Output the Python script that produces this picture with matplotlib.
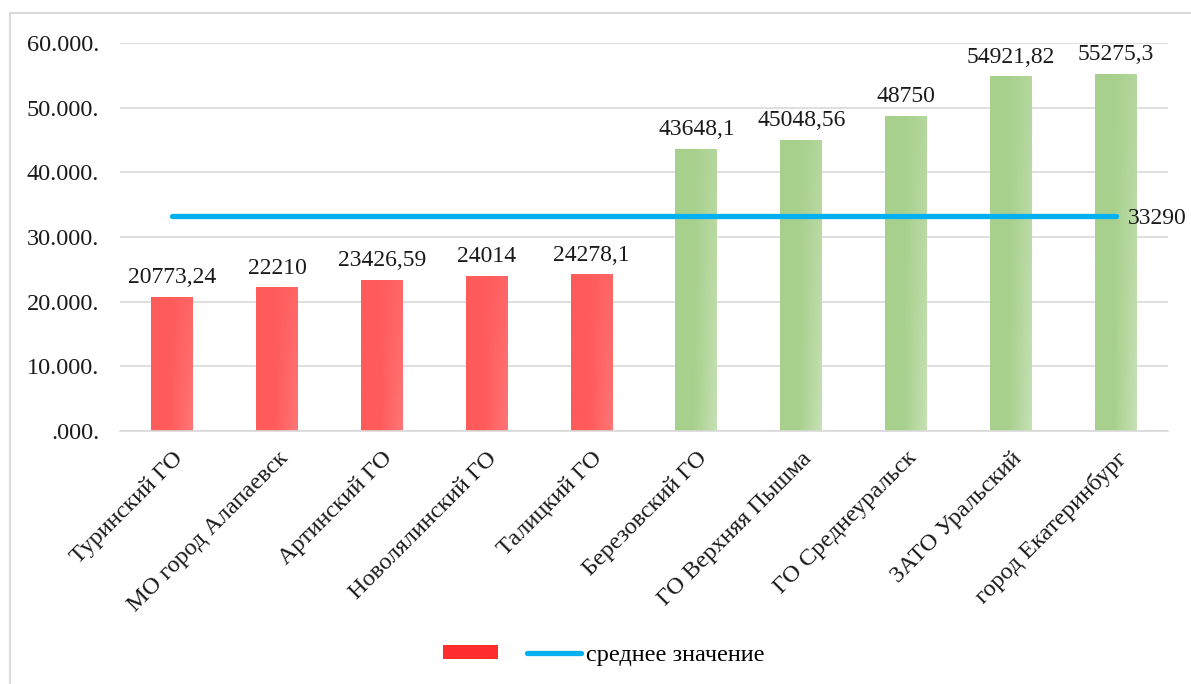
import numpy as np
import matplotlib
matplotlib.use("Agg")
import matplotlib.pyplot as plt
from matplotlib.patches import Patch, Rectangle
from matplotlib.lines import Line2D

# data
districts = ['Туринский ГО', 'МО город Алапаевск', 'Артинский ГО', 'Новолялинский ГО',
             'Талицкий ГО', 'Березовский ГО', 'ГО Верхняя Пышма', 'ГО Среднеуральск',
             'ЗАТО Уральский', 'город Екатеринбург']
values = [20773.24, 22210, 23426.59, 24014, 24278.1,
          43648.1, 45048.56, 48750, 54921.82, 55275.3]
value_labels = ['20773,24', '22210', '23426,59', '24014', '24278,1',
                '43648,1', '45048,56', '48750', '54921,82', '55275,3']
mean_value = 33290
mean_label = '33290'
yticks = [0, 10000, 20000, 30000, 40000, 50000, 60000]
ytick_labels = ['.000.', '10.000.', '20.000.', '30.000.', '40.000.', '50.000.', '60.000.']

plt.rcParams['font.family'] = ['Liberation Serif', 'DejaVu Serif']

red_base = np.array([255, 91, 91]) / 255
red_light = np.array([255, 118, 118]) / 255
green_base = np.array([168, 208, 141]) / 255
green_light = np.array([198, 225, 180]) / 255


def gradient(base, light):
    nx, ny = 60, 100
    t = np.linspace(0, 1, nx)
    h = np.clip((t - 0.45) / 0.55, 0, 1)
    v = np.linspace(0, 1, ny)[:, None] * 0.6 + 0.4
    k = (h[None, :] * v)[..., None]
    return base * (1 - k) + light * k


fig = plt.figure(figsize=(11.91, 6.84), dpi=100)
ax = fig.add_axes([120 / 1191, 1 - 431 / 684, 1048 / 1191, 388 / 684])

x = np.arange(len(values))
bars = ax.bar(x, values, width=0.4, color=[red_base] * 5 + [green_base] * 5,
              zorder=2, linewidth=0)
for i, b in enumerate(bars):
    img = gradient(red_base, red_light) if i < 5 else gradient(green_base, green_light)
    im = ax.imshow(img, extent=[b.get_x(), b.get_x() + b.get_width(), 0, b.get_height()],
                   aspect='auto', zorder=2.1, origin='upper')
    im.set_clip_path(b)
    ax.annotate(value_labels[i], (b.get_x() + b.get_width() / 2, b.get_height()),
                xytext=(0, 6), textcoords='offset points', ha='center', va='bottom',
                fontsize=17, color='#1a1a1a')

ax.plot(x, [mean_value] * len(x), color='#00B0F0', lw=3.8, solid_capstyle='round', zorder=3)
ax.annotate(mean_label, (x[-1], mean_value), xytext=(9, -2), textcoords='offset points',
            ha='left', va='center', fontsize=17, color='#1a1a1a')

ax.set_xlim(-0.5, len(x) - 0.5)
ax.set_ylim(0, 60000)
ax.set_yticks(yticks)
ax.set_yticklabels(ytick_labels, fontsize=17.5, color='#1a1a1a')
ax.set_xticks(x)
ax.set_xticklabels(districts, rotation=45, ha='right', rotation_mode='anchor',
                   fontsize=17.5, color='#1a1a1a')
ax.tick_params(axis='both', length=0)
ax.tick_params(axis='y', pad=15)
ax.tick_params(axis='x', pad=12)
ax.grid(axis='y', color='#D9D9D9', lw=1.2, zorder=0)
ax.set_axisbelow(True)
for s in ['top', 'right', 'left']:
    ax.spines[s].set_visible(False)
ax.spines['bottom'].set_color('#D9D9D9')
ax.spines['bottom'].set_linewidth(1.2)

handles = [Patch(facecolor='#FF2E2E', edgecolor='none'),
           Line2D([0], [0], color='#00B0F0', lw=3.8, solid_capstyle='round')]
fig.legend(handles, ['', 'среднее значение'], loc='center', ncol=2, frameon=False,
           bbox_to_anchor=(0.507, 1 - 655 / 684), fontsize=17.5, handlelength=2.25,
           handleheight=0.55, handletextpad=0.2, columnspacing=1.0)

fig.patches.append(Rectangle((10 / 1191, -0.1), 1.2, 1.1 - 13 / 684, transform=fig.transFigure,
                             fill=False, edgecolor='#D9D9D9', lw=1.5))

fig.savefig('out.png', dpi=100)
